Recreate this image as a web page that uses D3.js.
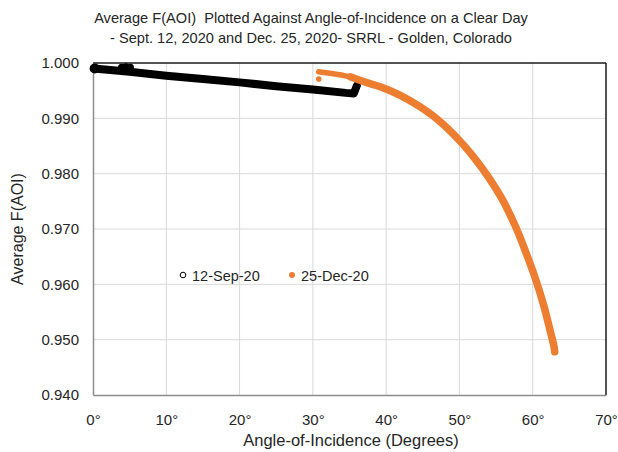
<!DOCTYPE html>
<html><head><meta charset="utf-8">
<script src="https://cdn.jsdelivr.net/npm/d3@7"></script>
<style>
html,body{margin:0;padding:0;background:#fff;}
text{font-family:"Liberation Sans","Open Sans",sans-serif;fill:#262626;}
</style></head>
<body><svg id="c" width="618" height="452"></svg>
<script>
// ---- data ----
const titleLines = ["Average F(AOI)  Plotted Against Angle-of-Incidence on a Clear Day",
                    "- Sept. 12, 2020 and Dec. 25, 2020- SRRL - Golden, Colorado"];
const xTicks = [0,10,20,30,40,50,60,70];
const yTicks = [0.940,0.950,0.960,0.970,0.980,0.990,1.000];
const seriesNames = ["12-Sep-20","25-Dec-20"];

const sepAngle = [0.1, 5.0, 10.0, 15.0, 20.0, 25.0, 30.0, 34.5, 35.6, 36.0];
const sepValue = [0.9990, 0.9984, 0.9977, 0.9971, 0.9965, 0.9958, 0.9952, 0.9946, 0.9945, 0.9959];
const sepClusterAngle = [3.9, 4.5, 5.1];
const sepClusterValue = [0.9992, 0.9993, 0.9992];

const decAngle = [30.8, 33.0, 35.1, 37.0, 39.2, 42.0, 44.6, 47.0, 50.0, 52.0, 54.0, 56.0, 57.7, 59.0, 60.3, 61.5, 62.4, 62.9, 63.0];
const decValue = [0.9984, 0.9980, 0.9975, 0.9966, 0.9957, 0.9941, 0.9921, 0.9898, 0.9860, 0.9829, 0.9793, 0.9750, 0.9703, 0.9660, 0.9613, 0.9562, 0.9515, 0.9488, 0.9478];
const decOutlierAngle = [30.8];
const decOutlierValue = [0.9971];

// ---- drawing ----
const svg = d3.select("#c");
const L=93, R=606, T=63, B=395;
const x = d3.scaleLinear().domain([0,70]).range([L,R]);
const y = d3.scaleLinear().domain([0.94,1.0]).range([B,T]);
const orange = "#ED7D31";

// title
svg.selectAll(".title").data(titleLines).join("text")
  .attr("x",311).attr("y",(d,i)=>23+i*20).attr("text-anchor","middle")
  .style("font-size","14.6px").style("white-space","pre").text(d=>d);

// grid
svg.append("g").selectAll("line").data(yTicks.filter(v=>v>0.9405&&v<0.9995)).join("line")
  .attr("x1",L).attr("x2",R).attr("y1",d=>y(d)).attr("y2",d=>y(d))
  .attr("stroke","#D9D9D9").attr("stroke-width",1);
svg.append("g").selectAll("line").data(xTicks.filter(v=>v>0&&v<70)).join("line")
  .attr("y1",T).attr("y2",B).attr("x1",d=>x(d)).attr("x2",d=>x(d))
  .attr("stroke","#D9D9D9").attr("stroke-width",1);

// frame: top and right dark
svg.append("line").attr("x1",L).attr("x2",R).attr("y1",T).attr("y2",T).attr("stroke","#1a1a1a").attr("stroke-width",1.5);
svg.append("line").attr("x1",R).attr("x2",R).attr("y1",T).attr("y2",B).attr("stroke","#1a1a1a").attr("stroke-width",1.5);

// axes
const xAxis = d3.axisBottom(x).tickValues(xTicks).tickSize(0).tickPadding(19).tickFormat(d=>d+"°");
const gx = svg.append("g").attr("transform",`translate(0,${B})`).call(xAxis);
gx.select(".domain").attr("stroke","#8c8c8c").attr("stroke-width",1.5);
gx.selectAll("text").style("font-size","15px").style("font-family","Liberation Sans, sans-serif").attr("fill","#262626");

const yAxis = d3.axisLeft(y).tickValues(yTicks).tickSize(0).tickPadding(14).tickFormat(d3.format(".3f"));
const gy = svg.append("g").attr("transform",`translate(${L},0)`).call(yAxis);
gy.select(".domain").attr("stroke","#8c8c8c").attr("stroke-width",1.5);
gy.selectAll("text").style("font-size","15px").style("font-family","Liberation Sans, sans-serif").attr("fill","#262626");

// axis titles
svg.append("text").attr("x",351).attr("y",446).attr("text-anchor","middle")
  .style("font-size","16.5px").text("Angle-of-Incidence (Degrees)");
svg.append("text").attr("transform",`translate(23,${(T+B)/2}) rotate(-90)`).attr("text-anchor","middle")
  .style("font-size","16px").text("Average F(AOI)");

// series
const line = d3.line().x(d=>x(d[0])).y(d=>y(d[1]));
const sepPts = sepAngle.map((a,i)=>[a,sepValue[i]]);
const decPts = decAngle.map((a,i)=>[a,decValue[i]]);

svg.append("path").datum(sepPts).attr("d",line.curve(d3.curveLinear))
  .attr("fill","none").attr("stroke","#000").attr("stroke-width",8)
  .attr("stroke-linecap","round").attr("stroke-linejoin","round");
svg.append("g").selectAll("circle").data(sepClusterAngle.map((a,i)=>[a,sepClusterValue[i]])).join("circle")
  .attr("cx",d=>x(d[0])).attr("cy",d=>y(d[1])).attr("r",3.6).attr("fill","#000");
svg.append("circle").attr("cx",x(sepAngle[0])+1).attr("cy",y(sepValue[0])).attr("r",5).attr("fill","#000");

svg.append("path").datum(decPts.slice(0,3)).attr("d",line.curve(d3.curveCatmullRom))
  .attr("fill","none").attr("stroke",orange).attr("stroke-width",5.5)
  .attr("stroke-linecap","round").attr("stroke-linejoin","round");
svg.append("path").datum(decPts.slice(2)).attr("d",line.curve(d3.curveCatmullRom))
  .attr("fill","none").attr("stroke",orange).attr("stroke-width",7.5)
  .attr("stroke-linecap","round").attr("stroke-linejoin","round");
svg.append("g").selectAll("circle").data(decOutlierAngle.map((a,i)=>[a,decOutlierValue[i]])).join("circle")
  .attr("cx",d=>x(d[0])).attr("cy",d=>y(d[1])).attr("r",2.8).attr("fill",orange);

// legend
const lg = svg.append("g");
lg.append("circle").attr("cx",183).attr("cy",275).attr("r",2.8).attr("fill","#fff").attr("stroke","#000").attr("stroke-width",1);
lg.append("text").attr("x",192).attr("y",280.5).style("font-size","14.5px").text(seriesNames[0]);
lg.append("circle").attr("cx",292).attr("cy",275).attr("r",3).attr("fill",orange);
lg.append("text").attr("x",301).attr("y",280.5).style("font-size","14.5px").text(seriesNames[1]);
</script></body></html>
